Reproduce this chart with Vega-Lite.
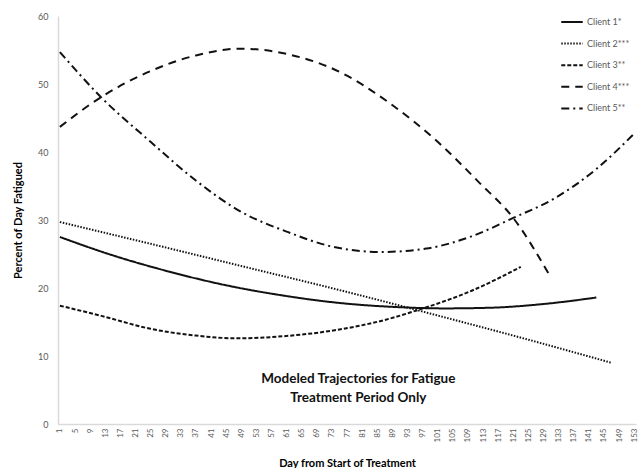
{
  "$schema": "https://vega.github.io/schema/vega-lite/v6.json",
  "width": 578,
  "height": 408,
  "autosize": {"type": "none"},
  "padding": {"left": 58, "top": 16, "right": 5, "bottom": 44},
  "background": "white",
  "config": {
    "view": {"stroke": null},
    "font": "Lato",
    "axis": {"grid": false, "ticks": false, "domainColor": "#d9d9d9", "domainWidth": 1.5, "labelColor": "#595959", "titleColor": "#000000", "titleFont": "Lato", "labelFont": "Lato"}
  },
  "layer": [
    {
      "data": {
        "values": [
          {"client": "Client 1*", "day": 1, "pct": 27.5},
          {"client": "Client 1*", "day": 15, "pct": 24.8},
          {"client": "Client 1*", "day": 30, "pct": 22.4},
          {"client": "Client 1*", "day": 45, "pct": 20.4},
          {"client": "Client 1*", "day": 60, "pct": 18.9},
          {"client": "Client 1*", "day": 75, "pct": 17.8},
          {"client": "Client 1*", "day": 90, "pct": 17.2},
          {"client": "Client 1*", "day": 103, "pct": 17.0},
          {"client": "Client 1*", "day": 115, "pct": 17.1},
          {"client": "Client 1*", "day": 130, "pct": 17.7},
          {"client": "Client 1*", "day": 143, "pct": 18.6},
          {"client": "Client 2***", "day": 1, "pct": 29.7},
          {"client": "Client 2***", "day": 25, "pct": 26.5},
          {"client": "Client 2***", "day": 50, "pct": 23.1},
          {"client": "Client 2***", "day": 75, "pct": 19.7},
          {"client": "Client 2***", "day": 100, "pct": 16.1},
          {"client": "Client 2***", "day": 125, "pct": 12.4},
          {"client": "Client 2***", "day": 147, "pct": 9.0},
          {"client": "Client 3**", "day": 1, "pct": 17.4},
          {"client": "Client 3**", "day": 12, "pct": 15.9},
          {"client": "Client 3**", "day": 25, "pct": 14.0},
          {"client": "Client 3**", "day": 37, "pct": 13.0},
          {"client": "Client 3**", "day": 48, "pct": 12.6},
          {"client": "Client 3**", "day": 60, "pct": 12.9},
          {"client": "Client 3**", "day": 75, "pct": 13.9},
          {"client": "Client 3**", "day": 87, "pct": 15.3},
          {"client": "Client 3**", "day": 96, "pct": 16.8},
          {"client": "Client 3**", "day": 110, "pct": 19.6},
          {"client": "Client 3**", "day": 123, "pct": 23.1},
          {"client": "Client 4***", "day": 1, "pct": 43.7},
          {"client": "Client 4***", "day": 12, "pct": 48.1},
          {"client": "Client 4***", "day": 25, "pct": 51.9},
          {"client": "Client 4***", "day": 37, "pct": 54.2},
          {"client": "Client 4***", "day": 49, "pct": 55.2},
          {"client": "Client 4***", "day": 62, "pct": 54.3},
          {"client": "Client 4***", "day": 75, "pct": 51.8},
          {"client": "Client 4***", "day": 88, "pct": 47.3},
          {"client": "Client 4***", "day": 101, "pct": 41.5},
          {"client": "Client 4***", "day": 112, "pct": 35.5},
          {"client": "Client 4***", "day": 121, "pct": 30.3},
          {"client": "Client 4***", "day": 131, "pct": 21.5},
          {"client": "Client 5**", "day": 1, "pct": 54.7},
          {"client": "Client 5**", "day": 12, "pct": 48.0},
          {"client": "Client 5**", "day": 25, "pct": 41.5},
          {"client": "Client 5**", "day": 37, "pct": 35.8},
          {"client": "Client 5**", "day": 49, "pct": 31.2},
          {"client": "Client 5**", "day": 61, "pct": 28.3},
          {"client": "Client 5**", "day": 73, "pct": 26.1},
          {"client": "Client 5**", "day": 86, "pct": 25.3},
          {"client": "Client 5**", "day": 98, "pct": 25.8},
          {"client": "Client 5**", "day": 110, "pct": 27.6},
          {"client": "Client 5**", "day": 121, "pct": 30.3},
          {"client": "Client 5**", "day": 132, "pct": 33.2},
          {"client": "Client 5**", "day": 143, "pct": 37.5},
          {"client": "Client 5**", "day": 153, "pct": 42.7}
        ]
      },
      "mark": {"type": "line", "color": "#111111", "strokeWidth": 2, "interpolate": "monotone"},
      "encoding": {
        "x": {
          "field": "day", "type": "quantitative",
          "scale": {"domain": [0.5, 153.5], "nice": false, "zero": false},
          "axis": {
            "title": "Day from Start of Treatment",
            "titleFontSize": 11, "titleFontWeight": "bold", "titlePadding": 16,
            "values": [1,5,9,13,17,21,25,29,33,37,41,45,49,53,57,61,65,69,73,77,81,85,89,93,97,101,105,109,113,117,121,125,129,133,137,141,145,149,153],
            "tickCount": 60,
            "labelAngle": -90, "labelFontSize": 8, "labelPadding": 4, "labelOverlap": false, "labelFlush": false, "labelBound": false
          }
        },
        "y": {
          "field": "pct", "type": "quantitative",
          "scale": {"domain": [0, 60], "nice": false},
          "axis": {
            "title": "Percent of Day Fatigued",
            "titleFontSize": 11, "titleFontWeight": "bold", "titlePadding": 14,
            "values": [0, 10, 20, 30, 40, 50, 60], "labelFontSize": 9, "labelPadding": 10
          }
        },
        "strokeDash": {
          "field": "client", "type": "nominal",
          "scale": {
            "domain": ["Client 1*", "Client 2***", "Client 3**", "Client 4***", "Client 5**"],
            "range": [[1, 0], [1.5, 1.5], [4, 2], [8, 6], [8, 4, 2, 4]]
          },
          "legend": {
            "title": null, "orient": "none", "legendX": 502, "legendY": -6,
            "symbolType": "stroke", "symbolSize": 460, "symbolStrokeWidth": 2, "symbolStrokeColor": "#111111",
            "labelFontSize": 9, "labelColor": "#595959", "labelOffset": 3, "rowPadding": 4.6
          }
        }
      }
    },
    {
      "data": {"values": [{"note": "Modeled Trajectories for Fatigue\nTreatment Period Only"}]},
      "mark": {"type": "text", "fontSize": 13.5, "fontWeight": "bold", "color": "#111111", "lineBreak": "\n", "lineHeight": 19, "align": "center", "baseline": "middle"},
      "encoding": {
        "x": {"datum": 80},
        "y": {"datum": 6.6},
        "text": {"field": "note"}
      }
    }
  ]
}
